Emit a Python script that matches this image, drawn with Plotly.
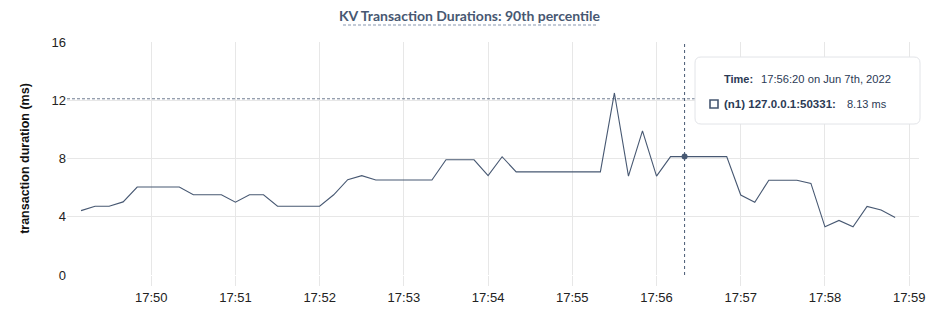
import plotly.graph_objects as go
import pandas as pd

# 90th percentile KV transaction durations, sampled every 10 s on Jun 7th, 2022
start_time = "2022-06-07 17:49:10"
durations_ms = [
    4.42, 4.72, 4.72, 5.02, 6.04, 6.04, 6.04, 6.04, 5.51, 5.51,
    5.51, 5.00, 5.51, 5.51, 4.72, 4.72, 4.72, 4.72, 5.51, 6.55,
    6.82, 6.52, 6.52, 6.52, 6.52, 6.52, 7.91, 7.91, 7.91, 6.82,
    8.12, 7.08, 7.08, 7.08, 7.08, 7.08, 7.08, 7.08, 12.5, 6.79,
    9.90, 6.79, 8.13, 8.13, 8.13, 8.13, 8.13, 5.49, 5.00, 6.51,
    6.51, 6.51, 6.29, 3.31, 3.75, 3.31, 4.71, 4.46, 3.95,
]
times = pd.date_range(start_time, periods=len(durations_ms), freq="10s")

series_name = "(n1) 127.0.0.1:50331"
hover_time = pd.Timestamp("2022-06-07 17:56:20")
hover_value = 8.13
cursor_y = 12.1

y_ticks = [0, 4, 8, 12, 16]
x_ticks = pd.date_range("2022-06-07 17:50:00", "2022-06-07 17:59:00", freq="1min")
x_range = ["2022-06-07 17:49:00", "2022-06-07 17:59:07"]

LINE = "#475872"
TEXT = "#2b3a55"
GRID = "#e7e7e7"

# plot-area geometry in pixels, used to place the overlay in paper coordinates
L, R, T, B = 67, 919, 42, 275
W, H = R - L, B - T


def px(x):
    return (x - L) / W


def py(y):
    return (B - y) / H


fig = go.Figure()
fig.add_trace(go.Scatter(
    x=times, y=durations_ms, mode="lines", name=series_name,
    line=dict(color=LINE, width=1.1), hoverinfo="skip", showlegend=False,
))
fig.add_trace(go.Scatter(
    x=[hover_time], y=[hover_value], mode="markers",
    marker=dict(color=LINE, size=6), hoverinfo="skip", showlegend=False,
))

shapes = [
    # crosshair
    dict(type="line", xref="x", yref="paper", x0=hover_time, x1=hover_time, y0=0, y1=1,
         line=dict(color=LINE, width=1, dash="3px,3px")),
    dict(type="line", xref="paper", yref="y", x0=0, x1=px(695), y0=cursor_y, y1=cursor_y,
         line=dict(color=LINE, width=0.8, dash="3px,2px")),
    # dashed title underline
    dict(type="line", xref="paper", yref="paper", x0=px(343), x1=px(598), y0=py(25), y1=py(25),
         line=dict(color="#8797b0", width=1, dash="3px,2px")),
]

# tooltip box with rounded corners
bx0, bx1, by0, by1 = 695, 920, 57, 124
r = 6
path = (
    f"M {px(bx0 + r)},{py(by0)} L {px(bx1 - r)},{py(by0)} "
    f"Q {px(bx1)},{py(by0)} {px(bx1)},{py(by0 + r)} "
    f"L {px(bx1)},{py(by1 - r)} Q {px(bx1)},{py(by1)} {px(bx1 - r)},{py(by1)} "
    f"L {px(bx0 + r)},{py(by1)} Q {px(bx0)},{py(by1)} {px(bx0)},{py(by1 - r)} "
    f"L {px(bx0)},{py(by0 + r)} Q {px(bx0)},{py(by0)} {px(bx0 + r)},{py(by0)} Z"
)
shapes.append(dict(type="path", xref="paper", yref="paper", path=path,
                   fillcolor="white", line=dict(color="#e2e4e8", width=1), layer="above"))
# legend swatch
shapes.append(dict(type="rect", xref="paper", yref="paper",
                   x0=px(710), x1=px(718), y0=py(108), y1=py(100),
                   line=dict(color=LINE, width=1.6), fillcolor="white", layer="above"))


def tip_font(size):
    return dict(family="Liberation Sans, Arial, sans-serif", size=size, color=TEXT)


annotations = [
    dict(text="<b>KV Transaction Durations: 90th percentile</b>", xref="paper", yref="paper",
         x=px(470), y=py(16), xanchor="center", yanchor="middle", showarrow=False,
         font=dict(family="Lato, sans-serif", size=14, color=LINE)),
    dict(text="<b>Time:</b>", xref="paper", yref="paper", x=px(722), y=py(79),
         xanchor="left", yanchor="middle", showarrow=False, font=tip_font(11)),
    dict(text=f"{hover_time:%H:%M:%S} on Jun 7th, 2022", xref="paper", yref="paper",
         x=px(759), y=py(79), xanchor="left", yanchor="middle", showarrow=False,
         font=tip_font(11.2)),
    dict(text=f"<b>{series_name}:</b>", xref="paper", yref="paper", x=px(722), y=py(104),
         xanchor="left", yanchor="middle", showarrow=False, font=tip_font(11.5)),
    dict(text=f"{hover_value:.2f} ms", xref="paper", yref="paper", x=px(845), y=py(104),
         xanchor="left", yanchor="middle", showarrow=False, font=tip_font(11)),
]

fig.update_layout(
    width=937, height=326,
    margin=dict(l=L, r=937 - R, t=T, b=326 - B, autoexpand=False),
    paper_bgcolor="white", plot_bgcolor="white",
    font=dict(family="Liberation Sans, Arial, sans-serif", size=13, color="#222"),
    shapes=shapes, annotations=annotations, showlegend=False,
)
fig.update_xaxes(
    range=x_range, type="date", tickformat="%H:%M", tickvals=x_ticks,
    showgrid=True, gridcolor=GRID, gridwidth=1,
    ticks="outside", ticklen=10, tickcolor=GRID, tickwidth=1,
    showline=False, zeroline=False,
    tickfont=dict(size=13, color="#222"),
)
fig.update_yaxes(
    range=[0, 16], tickvals=y_ticks, showgrid=True, gridcolor=GRID, gridwidth=1,
    showline=False, zeroline=False, ticks="", ticklabelstandoff=0,
    tickfont=dict(size=13, color="#222"),
    title=dict(text="<b>transaction duration (ms)</b>", standoff=19,
               font=dict(size=12.5, color="#111")),
)

fig.write_html("out.html")
